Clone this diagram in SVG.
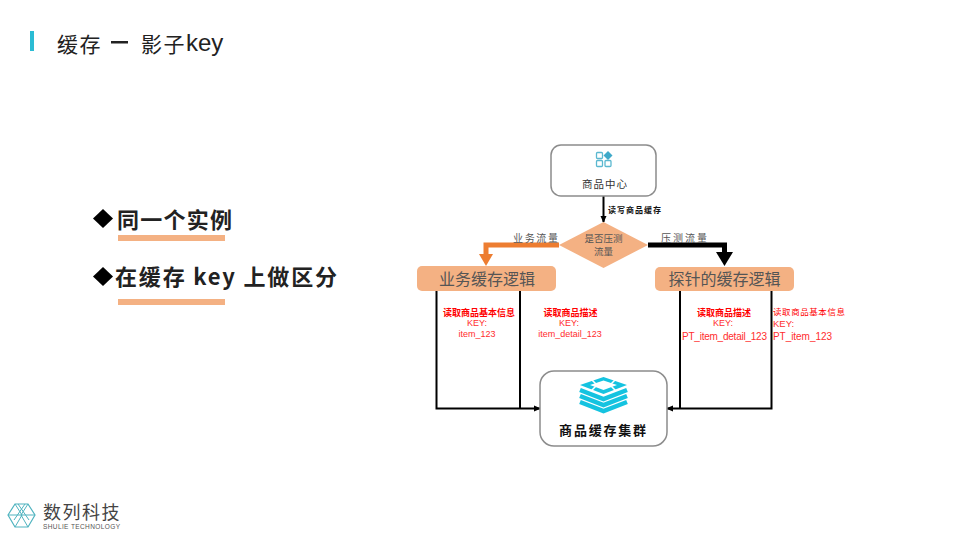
<svg xmlns="http://www.w3.org/2000/svg" width="960" height="540" viewBox="0 0 960 540">
<style>
text{font-family:"Liberation Sans","Noto Sans CJK SC",sans-serif}
.cjk{font-family:"Noto Sans CJK SC","Liberation Sans",sans-serif}
.box{fill:#fff;stroke:#8c8c8c;stroke-width:1.5}
.or{fill:#f4b183}
.wire{fill:none;stroke:#000;stroke-width:2}
.red{fill:#ff2d2d;font-size:9px;text-anchor:middle}
.redb{fill:#f00;font-size:9px;font-weight:700;text-anchor:middle;font-family:"Noto Sans CJK SC",sans-serif}
.lab{fill:#555;font-size:10px;font-family:"Noto Sans CJK SC",sans-serif}
.bul{fill:#222;font-size:22px;font-weight:700;font-family:"Noto Sans CJK SC",sans-serif}
.ic{fill:none;stroke:#5bb8d0;stroke-width:1.3}
.band{fill:none;stroke:#15c3e0;stroke-width:4.500}
</style>
<defs>
<marker id="ah" markerUnits="userSpaceOnUse" markerWidth="7" markerHeight="7" refX="6" refY="3.500" orient="auto"><path d="M0 0.500L7 3.500L0 6.500Z" fill="#000"/></marker>
</defs>
<rect width="960" height="540" fill="#fff"/>
<g id="title">
<rect x="30" y="31" width="4" height="20" fill="#2bbcd4"/>
<text x="57" y="52" class="cjk" font-size="21" fill="#222" letter-spacing="1.500">缓存</text>
<rect x="111" y="41" width="17" height="2.500" fill="#222"/>
<text x="141" y="52" class="cjk" font-size="21" fill="#222" letter-spacing="1.500">影子</text>
<text x="186" y="51" font-size="24" fill="#222">key</text>
</g>
<g id="bullets">
<path d="M103 209L113 218.500L103 228L93 218.500Z" fill="#000"/>
<text x="117" y="228" class="bul" textLength="115">同一个实例</text>
<rect x="118" y="235" width="107" height="6" class="or"/>
<path d="M103 267L113 276.500L103 286L93 276.500Z" fill="#000"/>
<text x="115" y="285" class="bul" textLength="222">在缓存 key 上做区分</text>
<rect x="118" y="299" width="107" height="6" class="or"/>
</g>
<g id="connectors">
<path d="M603.500 196V222" class="wire" marker-end="url(#ah)"/>
<path d="M559 245H486V258" fill="none" stroke="#ed7d31" stroke-width="5"/>
<path d="M479 254H493L486 266Z" fill="#ed7d31"/>
<path d="M648 245H724.500V255" fill="none" stroke="#000" stroke-width="5"/>
<path d="M716 252H733L724.500 266Z" fill="#000"/>
<path d="M436.500 291V408.500H540" class="wire" marker-end="url(#ah)"/>
<path d="M520 291V408.500" class="wire"/>
<path d="M771.500 291V408.500H667" class="wire" marker-end="url(#ah)"/>
<path d="M680 291V408.500" class="wire"/>
</g>
<g id="node-product-center">
<rect x="551" y="145" width="105" height="51" rx="10" class="box"/>
<rect x="596.500" y="152.500" width="6" height="6" rx="1" class="ic"/>
<rect x="596.500" y="160.500" width="6" height="6" rx="1" class="ic"/>
<rect x="605" y="160.500" width="6" height="6" rx="1" class="ic"/>
<path d="M608 151L612.500 155.500L608 160L603.500 155.500Z" fill="#3fa9c9"/>
<text x="605" y="188" class="cjk" font-size="10.500" fill="#333" text-anchor="middle" letter-spacing="1">商品中心</text>
</g>
<text x="608" y="213" class="cjk" font-size="8" font-weight="700" fill="#111" textLength="53">读写商品缓存</text>
<g id="node-decision">
<path d="M559 245L603.500 222L648 245L603.500 268Z" class="or"/>
<text x="603.500" y="242" class="lab" style="font-size:9.500px" text-anchor="middle">是否压测</text>
<text x="603.500" y="254.500" class="lab" style="font-size:9.500px" text-anchor="middle">流量</text>
</g>
<text x="513" y="242" class="lab" textLength="45">业务流量</text>
<text x="661" y="242" class="lab" textLength="46">压测流量</text>
<g id="node-biz">
<rect x="417" y="266" width="139" height="25" rx="5" class="or"/>
<text x="487" y="284.500" class="cjk" font-size="16" fill="#555" text-anchor="middle">业务缓存逻辑</text>
</g>
<g id="node-probe">
<rect x="655" y="267" width="139" height="24" rx="5" class="or"/>
<text x="724.500" y="284.500" class="cjk" font-size="16" fill="#555" text-anchor="middle">探针的缓存逻辑</text>
</g>
<g id="labels-red">
<text x="479" y="316" class="redb">读取商品基本信息</text>
<text x="477" y="326" class="red">KEY:</text>
<text x="477" y="337" class="red">item_123</text>
<text x="570.500" y="316" class="redb">读取商品描述</text>
<text x="569" y="326" class="red">KEY:</text>
<text x="570" y="337" class="red">item_detail_123</text>
<text x="724" y="316" class="redb">读取商品描述</text>
<text x="723" y="326" class="red">KEY:</text>
<text x="682" y="340" font-size="10" fill="#ff2d2d" textLength="85">PT_item_detail_123</text>
<text x="773" y="315" class="cjk" font-size="8.500" fill="#f00" textLength="72">读取商品基本信息</text>
<text x="773" y="327" font-size="9.500" fill="#ff2d2d">KEY:</text>
<text x="773" y="340" font-size="10" fill="#ff2d2d" textLength="59">PT_item_123</text>
</g>
<g id="node-cluster">
<rect x="540" y="371" width="127" height="75" rx="14" class="box"/>
<path d="M580 385L603.500 377L627 385L603.500 394Z" fill="#15c3e0"/>
<path d="M590 385L603.500 380.500L617 385L603.500 390Z" fill="#fff"/>
<path d="M591 379L597 385M616 379L610 385M591 391L597 385M616 391L610 385" stroke="#fff" stroke-width="1.500" fill="none"/>
<path d="M580 390L603.500 399L627 390" class="band"/>
<path d="M580 396L603.500 405L627 396" class="band"/>
<path d="M580 402L603.500 411L627 402" class="band"/>
<text x="603.500" y="434.500" class="cjk" font-size="13" font-weight="700" fill="#111" text-anchor="middle" letter-spacing="1.800">商品缓存集群</text>
</g>
<g id="logo">
<path d="M8 515L15 504H28L35 515L28 527H15Z" fill="none" stroke="#4fb3bf" stroke-width="1.200"/>
<path d="M15 504L22 515L15 527M28 504L21 515L28 527M8 515H35M18 504L29 520M25 504L14 520" fill="none" stroke="#4fb3bf" stroke-width="1"/>
<text x="43" y="518.500" class="cjk" font-size="18" fill="#444" letter-spacing="1.500">数列科技</text>
<text x="43" y="529" font-size="6.500" fill="#555" textLength="77">SHULIE TECHNOLOGY</text>
</g>
</svg>
